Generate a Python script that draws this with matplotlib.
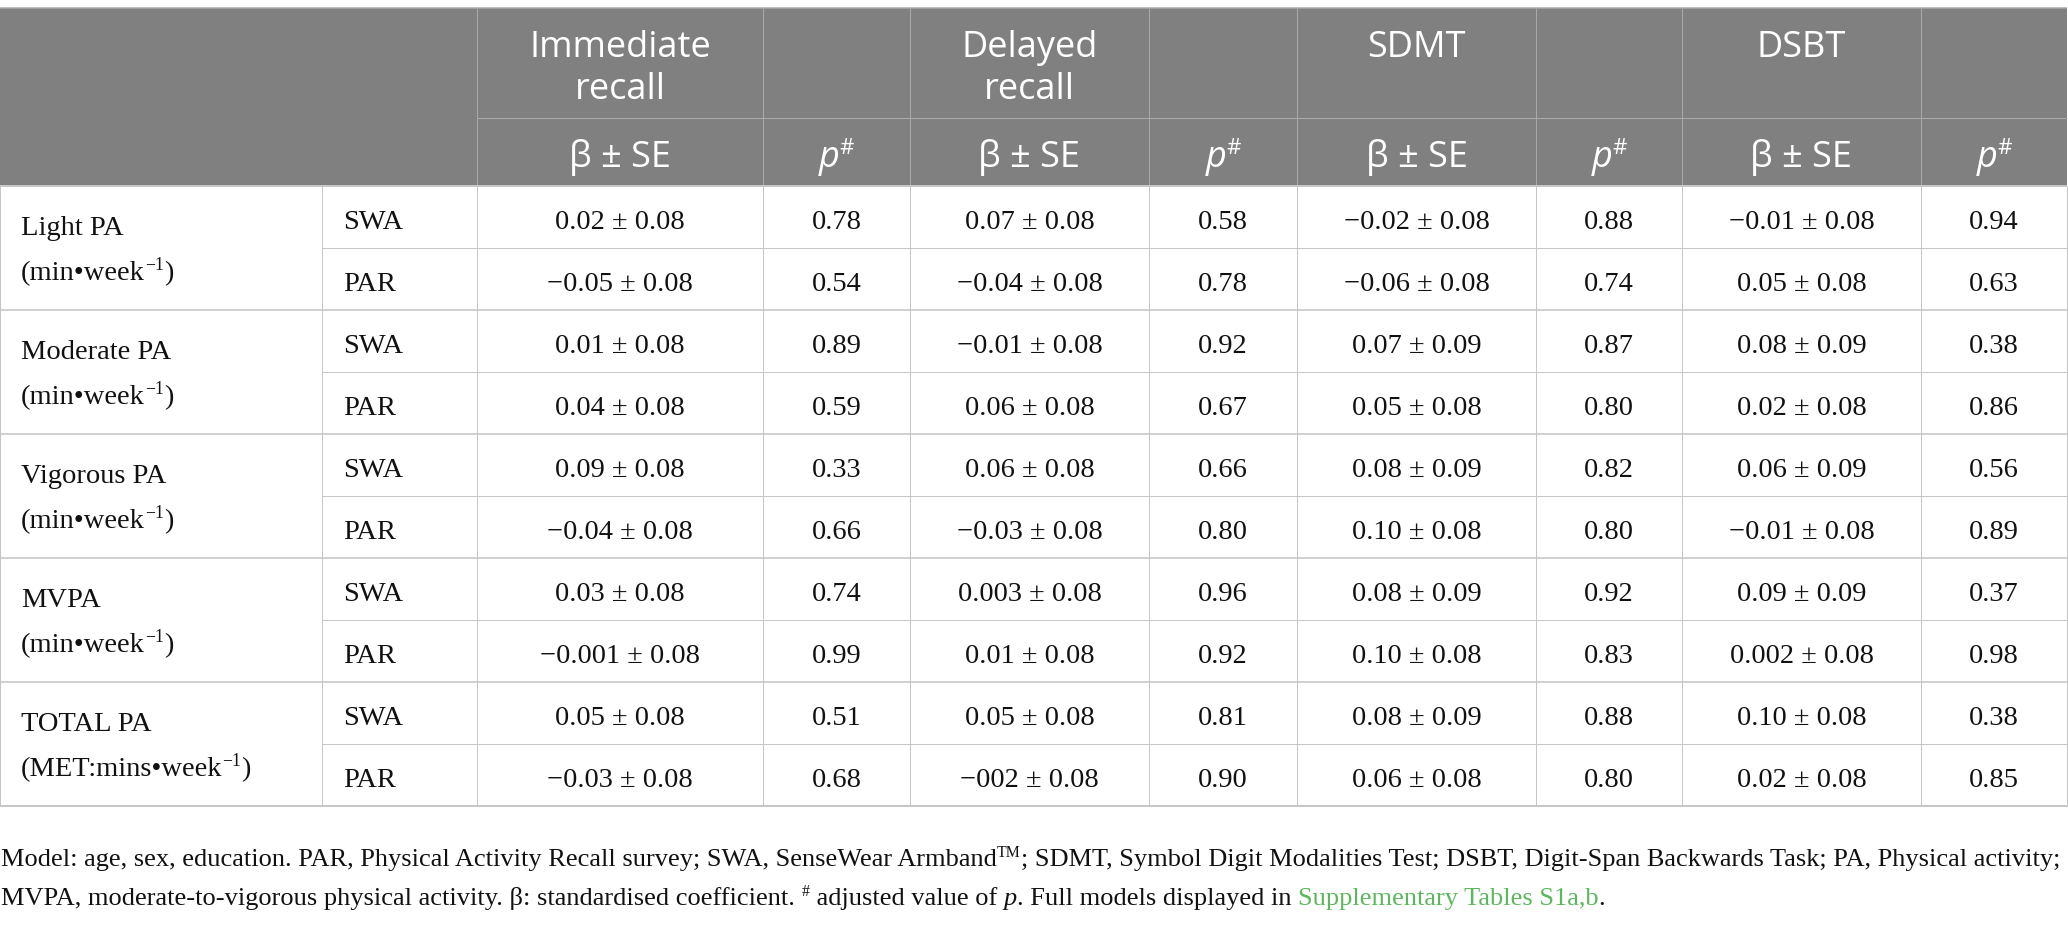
import matplotlib
matplotlib.use("Agg")
import matplotlib.pyplot as plt
from matplotlib.patches import Rectangle

# table content
groups = ["Light PA", "Moderate PA", "Vigorous PA", "MVPA", "TOTAL PA"]
group_units = ["min•week", "min•week", "min•week", "min•week", "MET:mins•week"]
devices = ["SWA", "PAR"]
outcomes = [["Immediate", "recall"], ["Delayed", "recall"], ["SDMT"], ["DSBT"]]

beta_immediate = ["0.02", "−0.05", "0.01", "0.04", "0.09", "−0.04", "0.03", "−0.001", "0.05", "−0.03"]
se_immediate = ["0.08", "0.08", "0.08", "0.08", "0.08", "0.08", "0.08", "0.08", "0.08", "0.08"]
p_immediate = ["0.78", "0.54", "0.89", "0.59", "0.33", "0.66", "0.74", "0.99", "0.51", "0.68"]

beta_delayed = ["0.07", "−0.04", "−0.01", "0.06", "0.06", "−0.03", "0.003", "0.01", "0.05", "−002"]
se_delayed = ["0.08", "0.08", "0.08", "0.08", "0.08", "0.08", "0.08", "0.08", "0.08", "0.08"]
p_delayed = ["0.58", "0.78", "0.92", "0.67", "0.66", "0.80", "0.96", "0.92", "0.81", "0.90"]

beta_sdmt = ["−0.02", "−0.06", "0.07", "0.05", "0.08", "0.10", "0.08", "0.10", "0.08", "0.06"]
se_sdmt = ["0.08", "0.08", "0.09", "0.08", "0.09", "0.08", "0.09", "0.08", "0.09", "0.08"]
p_sdmt = ["0.88", "0.74", "0.87", "0.80", "0.82", "0.80", "0.92", "0.83", "0.88", "0.80"]

beta_dsbt = ["−0.01", "0.05", "0.08", "0.02", "0.06", "−0.01", "0.09", "0.002", "0.10", "0.02"]
se_dsbt = ["0.08", "0.08", "0.09", "0.08", "0.09", "0.08", "0.09", "0.08", "0.08", "0.08"]
p_dsbt = ["0.94", "0.63", "0.38", "0.86", "0.56", "0.89", "0.37", "0.98", "0.38", "0.85"]

betas = [beta_immediate, beta_delayed, beta_sdmt, beta_dsbt]
ses = [se_immediate, se_delayed, se_sdmt, se_dsbt]
pvals = [p_immediate, p_delayed, p_sdmt, p_dsbt]

note_line1 = ("Model: age, sex, education. PAR, Physical Activity Recall survey; SWA, SenseWear Armband",
              "TM",
              "; SDMT, Symbol Digit Modalities Test; DSBT, Digit-Span Backwards Task; PA, Physical activity;")
note_line2 = ("MVPA, moderate-to-vigorous physical activity. β: standardised coefficient. ",
              "#", " adjusted value of ", "p", ". Full models displayed in ",
              "Supplementary Tables S1a,b", ".")

# layout (pixels)
W, H = 2068, 926
col_edges = [0, 322, 477, 763, 910, 1149, 1297, 1536, 1682, 1921, 2067]
top = 8
head_mid = 118
head_bot = 186
row_h = 62
n_rows = 10

header_bg = "#808080"
header_line = "#a9a9a9"
body_line = "#c6c6c6"
serif = "Liberation Serif"
sans = "Open Sans"
body_size = 20.5
head_size = 26
note_size = 19

fig = plt.figure(figsize=(W / 100, H / 100), dpi=100)
ax = fig.add_axes([0, 0, 1, 1])
ax.set_xlim(0, W)
ax.set_ylim(H, 0)
ax.axis("off")
renderer = fig.canvas.get_renderer()


def text_width(s, **kw):
    t = ax.text(0, 0, "|" + s + "|", **kw)
    w1 = t.get_window_extent(renderer).width
    t.remove()
    t = ax.text(0, 0, "||", **kw)
    w2 = t.get_window_extent(renderer).width
    t.remove()
    return w1 - w2


def draw_runs(x, y, runs, ha="left"):
    # runs: list of (text, font kwargs, vertical offset)
    widths = [text_width(s, **kw) for s, kw, dy in runs]
    if ha == "center":
        x -= sum(widths) / 2
    for (s, kw, dy), w in zip(runs, widths):
        ax.text(x, y + dy, s, ha="left", va="baseline", **kw)
        x += w


def hline(y, x0, x1, color, lw=1.0):
    ax.plot([x0, x1], [y, y], color=color, lw=lw * 0.72, solid_capstyle="butt")


def vline(x, y0, y1, color, lw=1.0):
    ax.plot([x, x], [y0, y1], color=color, lw=lw * 0.72, solid_capstyle="butt")


body_bot = head_bot + n_rows * row_h

# header block
ax.add_patch(Rectangle((0, top), col_edges[-1], head_bot - top, color=header_bg, lw=0))
hline(top, 0, col_edges[-1], header_line, 1.5)
hline(head_mid, col_edges[2], col_edges[-1], header_line)
for x in col_edges[2:-1]:
    vline(x, top, head_bot, header_line)

head_font = dict(family=sans, size=head_size, color="white")
for k, lines in enumerate(outcomes):
    cx = (col_edges[2 + 2 * k] + col_edges[3 + 2 * k]) / 2
    for j, line in enumerate(lines):
        ax.text(cx, 57 + 42 * j, line, ha="center", va="baseline", **head_font)
    draw_runs(cx, 167, [("β ± SE", head_font, 0)], ha="center")
    px = (col_edges[3 + 2 * k] + col_edges[4 + 2 * k]) / 2
    draw_runs(px, 167, [("p", dict(head_font, style="italic"), 0),
                        ("#", dict(head_font, size=16), -13)], ha="center")

# body grid
for r in range(n_rows + 1):
    y = head_bot + r * row_h
    if r % 2 == 0:
        hline(y, 0, col_edges[-1], body_line, 2.0 if r in (0, n_rows) else 1.6)
    else:
        hline(y, col_edges[1], col_edges[-1], body_line)
for x in col_edges:
    vline(x, head_bot, body_bot, body_line)

body_font = dict(family=serif, size=body_size, color="#111111")
sup_font = dict(family=serif, size=body_size * 0.62, color="#111111")

for g, name in enumerate(groups):
    gy = head_bot + 2 * g * row_h
    ax.text(21, gy + 49, name, ha="left", va="baseline", **body_font)
    draw_runs(21, gy + 94, [("(" + group_units[g], body_font, 0),
                            ("−1", sup_font, -10),
                            (")", body_font, 0)])

for r in range(n_rows):
    base = head_bot + r * row_h + 43
    ax.text(343, base, devices[r % 2], ha="left", va="baseline", **body_font)
    for k in range(4):
        cx = (col_edges[2 + 2 * k] + col_edges[3 + 2 * k]) / 2
        px = (col_edges[3 + 2 * k] + col_edges[4 + 2 * k]) / 2
        ax.text(cx, base, f"{betas[k][r]} ± {ses[k][r]}", ha="center", va="baseline", **body_font)
        ax.text(px, base, pvals[k][r], ha="center", va="baseline", **body_font)

# footnote
note_font = dict(family=serif, size=note_size, color="#111111")
note_sup = dict(family=serif, size=note_size * 0.6, color="#111111")
draw_runs(1, 866, [(note_line1[0], note_font, 0),
                   (note_line1[1], note_sup, -9),
                   (note_line1[2], note_font, 0)])
draw_runs(1, 905, [(note_line2[0], note_font, 0),
                   (note_line2[1], note_sup, -9),
                   (note_line2[2], note_font, 0),
                   (note_line2[3], dict(note_font, style="italic"), 0),
                   (note_line2[4], note_font, 0),
                   (note_line2[5], dict(note_font, color="#5cb85c"), 0),
                   (note_line2[6], note_font, 0)])

fig.savefig("out.png", dpi=100)
